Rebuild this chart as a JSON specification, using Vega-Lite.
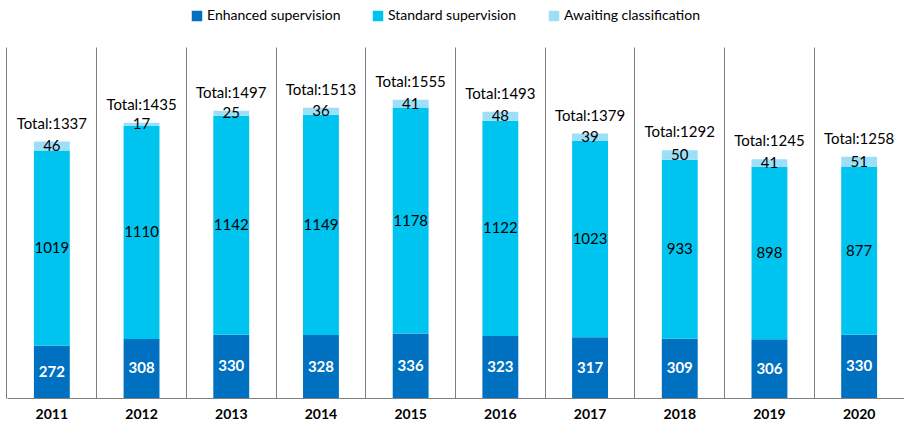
{
  "$schema": "https://vega.github.io/schema/vega-lite/v6.json",
  "width": 897,
  "height": 351,
  "autosize": {"type": "none"},
  "padding": {"left": 7, "top": 47, "right": 0, "bottom": 29},
  "config": {"view": {"stroke": null}, "font": "Lato"},
  "data": {"values": [
    {"year": "2011", "cat": "Enhanced supervision", "k": 1, "value": 272},
    {"year": "2011", "cat": "Standard supervision", "k": 2, "value": 1019},
    {"year": "2011", "cat": "Awaiting classification", "k": 3, "value": 46},
    {"year": "2012", "cat": "Enhanced supervision", "k": 1, "value": 308},
    {"year": "2012", "cat": "Standard supervision", "k": 2, "value": 1110},
    {"year": "2012", "cat": "Awaiting classification", "k": 3, "value": 17},
    {"year": "2013", "cat": "Enhanced supervision", "k": 1, "value": 330},
    {"year": "2013", "cat": "Standard supervision", "k": 2, "value": 1142},
    {"year": "2013", "cat": "Awaiting classification", "k": 3, "value": 25},
    {"year": "2014", "cat": "Enhanced supervision", "k": 1, "value": 328},
    {"year": "2014", "cat": "Standard supervision", "k": 2, "value": 1149},
    {"year": "2014", "cat": "Awaiting classification", "k": 3, "value": 36},
    {"year": "2015", "cat": "Enhanced supervision", "k": 1, "value": 336},
    {"year": "2015", "cat": "Standard supervision", "k": 2, "value": 1178},
    {"year": "2015", "cat": "Awaiting classification", "k": 3, "value": 41},
    {"year": "2016", "cat": "Enhanced supervision", "k": 1, "value": 323},
    {"year": "2016", "cat": "Standard supervision", "k": 2, "value": 1122},
    {"year": "2016", "cat": "Awaiting classification", "k": 3, "value": 48},
    {"year": "2017", "cat": "Enhanced supervision", "k": 1, "value": 317},
    {"year": "2017", "cat": "Standard supervision", "k": 2, "value": 1023},
    {"year": "2017", "cat": "Awaiting classification", "k": 3, "value": 39},
    {"year": "2018", "cat": "Enhanced supervision", "k": 1, "value": 309},
    {"year": "2018", "cat": "Standard supervision", "k": 2, "value": 933},
    {"year": "2018", "cat": "Awaiting classification", "k": 3, "value": 50},
    {"year": "2019", "cat": "Enhanced supervision", "k": 1, "value": 306},
    {"year": "2019", "cat": "Standard supervision", "k": 2, "value": 898},
    {"year": "2019", "cat": "Awaiting classification", "k": 3, "value": 41},
    {"year": "2020", "cat": "Enhanced supervision", "k": 1, "value": 330},
    {"year": "2020", "cat": "Standard supervision", "k": 2, "value": 877},
    {"year": "2020", "cat": "Awaiting classification", "k": 3, "value": 51}
  ]},
  "transform": [
    {"stack": "value", "groupby": ["year"], "sort": [{"field": "k"}], "as": ["y0", "y1"]},
    {"calculate": "(datum.y0 + datum.y1) / 2", "as": "ym"}
  ],
  "encoding": {
    "x": {
      "field": "year", "type": "ordinal",
      "scale": {"paddingInner": 0.6, "paddingOuter": 0.3},
      "axis": {
        "title": null, "labelAngle": 0, "ticks": false, "grid": true, "bandPosition": -0.75,
        "gridColor": "#7f7f7f", "gridWidth": 1, "domainColor": "#7f7f7f", "domainWidth": 1,
        "labelFontWeight": "bold", "labelFontSize": 14, "labelColor": "#000000", "labelPadding": 9
      }
    }
  },
  "layer": [
    {
      "mark": {"type": "bar"},
      "encoding": {
        "y": {"field": "y1", "type": "quantitative", "scale": {"domain": [0, 1830], "nice": false, "zero": true}, "axis": null},
        "y2": {"field": "y0"},
        "color": {
          "field": "cat", "type": "nominal",
          "scale": {"domain": ["Enhanced supervision", "Standard supervision", "Awaiting classification"], "range": ["#0070C0", "#00C4F0", "#9EDFF8"]},
          "legend": {
            "title": null, "orient": "none", "direction": "horizontal", "legendX": 183, "legendY": -38,
            "symbolType": "square", "symbolSize": 110, "symbolStrokeWidth": 0, "labelFontSize": 14, "labelColor": "#000000",
            "columnPadding": 30, "labelOffset": 3
          }
        }
      }
    },
    {
      "transform": [{"filter": "datum.k === 1"}],
      "mark": {"type": "text", "fontSize": 15, "baseline": "middle", "fontWeight": "bold", "color": "#ffffff"},
      "encoding": {
        "y": {"field": "ym", "type": "quantitative"},
        "text": {"field": "value", "type": "quantitative"}
      }
    },
    {
      "transform": [{"filter": "datum.k !== 1"}],
      "mark": {"type": "text", "fontSize": 15, "baseline": "middle", "color": "#000000"},
      "encoding": {
        "y": {"field": "ym", "type": "quantitative"},
        "text": {"field": "value", "type": "quantitative"}
      }
    },
    {
      "transform": [
        {"aggregate": [{"op": "sum", "field": "value", "as": "total"}], "groupby": ["year"]},
        {"calculate": "'Total:' + datum.total", "as": "lab"}
      ],
      "mark": {"type": "text", "fontSize": 15, "baseline": "bottom", "dy": -10, "color": "#000000"},
      "encoding": {
        "y": {"field": "total", "type": "quantitative"},
        "text": {"field": "lab", "type": "nominal"}
      }
    }
  ]
}
